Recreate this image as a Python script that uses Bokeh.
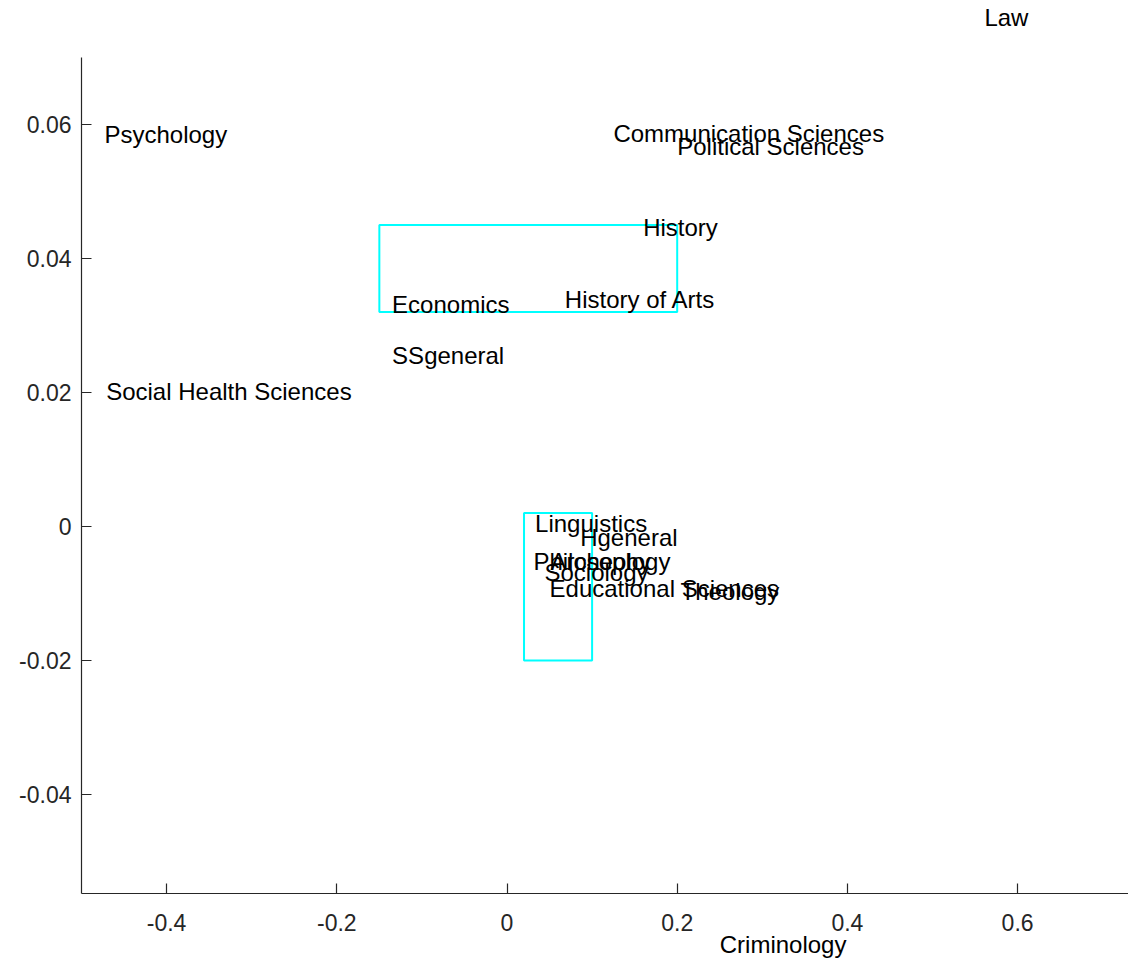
from bokeh.plotting import figure
from bokeh.models import ColumnDataSource, LabelSet, FixedTicker, Range1d
from bokeh.embed import file_html
from bokeh.resources import INLINE
from bokeh.core.properties import value

# --- data ---
names = ["Law", "Criminology", "Psychology", "Communication Sciences", "Political Sciences",
         "History", "History of Arts", "Economics", "SSgeneral", "Social Health Sciences",
         "Linguistics", "Hgeneral", "Philosophy", "Archeology", "Sociology",
         "Educational Sciences", "Theology"]
xs = [0.561, 0.250, -0.473, 0.125, 0.200,
      0.160, 0.068, -0.135, -0.135, -0.471,
      0.033, 0.086, 0.031, 0.051, 0.044,
      0.050, 0.204]
ys = [0.0759, -0.0624, 0.0585, 0.0587, 0.0567,
      0.0446, 0.0339, 0.0331, 0.0255, 0.0201,
      0.0004, -0.0016, -0.0052, -0.0052, -0.0069,
      -0.0092, -0.0097]

rect_left = [-0.15, 0.02]
rect_right = [0.20, 0.10]
rect_top = [0.045, 0.002]
rect_bottom = [0.032, -0.02]

x_ticks = [-0.4, -0.2, 0.0, 0.2, 0.4, 0.6]
x_tick_labels = ["-0.4", "-0.2", "0", "0.2", "0.4", "0.6"]
y_ticks = [-0.04, -0.02, 0.0, 0.02, 0.04, 0.06]
y_tick_labels = ["-0.04", "-0.02", "0", "0.02", "0.04", "0.06"]

x_lim = [-0.5, 0.7303]
y_lim = [-0.0548, 0.07]

FONT = "Liberation Sans"
DARK = "#262626"

W, H = 1128, 959
AX_LEFT, AX_TOP = 81, 57          # pixel position of the axes box corner
PX_X, PX_Y = 851.0, 6700.0         # pixels per data unit

fx0 = x_lim[0] - AX_LEFT / PX_X
fx1 = fx0 + W / PX_X
fy1 = y_lim[1] + AX_TOP / PX_Y
fy0 = fy1 - H / PX_Y

p = figure(width=W, height=H, output_backend="svg", toolbar_location=None,
           x_range=Range1d(fx0, fx1), y_range=Range1d(fy0, fy1),
           min_border_left=0, min_border_top=0, min_border_bottom=0, min_border_right=0)
p.xgrid.visible = False
p.ygrid.visible = False
p.outline_line_color = None
p.background_fill_color = "white"
p.border_fill_color = "white"

for ax, ticks, labels in ((p.xaxis[0], x_ticks, x_tick_labels), (p.yaxis[0], y_ticks, y_tick_labels)):
    ax.ticker = FixedTicker(ticks=ticks)
    ax.major_label_overrides = {t: l for t, l in zip(ticks, labels)}
    ax.major_tick_in = 10
    ax.major_tick_out = 0
    ax.minor_tick_line_color = None
    ax.axis_line_color = DARK
    ax.major_tick_line_color = DARK
    ax.axis_line_width = 1.2
    ax.major_tick_line_width = 1.2
    ax.major_label_text_font = FONT
    ax.major_label_text_font_size = "23px"
    ax.major_label_text_color = DARK
p.xaxis[0].major_label_standoff = 20
p.yaxis[0].major_label_standoff = 10
p.xaxis[0].fixed_location = y_lim[0]
p.yaxis[0].fixed_location = x_lim[0]
p.xaxis[0].bounds = (x_lim[0], x_lim[1])
p.yaxis[0].bounds = (y_lim[0], y_lim[1])

p.quad(left=rect_left, right=rect_right, top=rect_top, bottom=rect_bottom,
       fill_alpha=0, line_color="#00FFFF", line_width=2)

src = ColumnDataSource(dict(x=xs, y=ys, name=names))
labels = LabelSet(x="x", y="y", text="name", source=src,
                  text_font=value(FONT), text_font_size="24px",
                  text_color="black", text_align="left", text_baseline="middle")
p.add_layout(labels)

open("out.html", "w").write(file_html(p, INLINE))
